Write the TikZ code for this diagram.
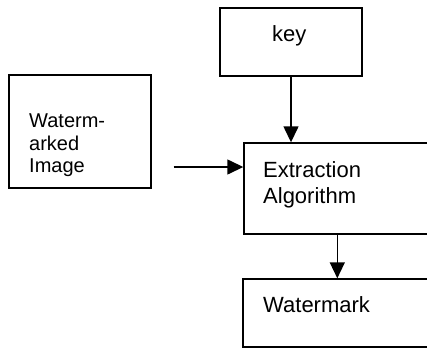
\documentclass[tikz,border=0pt]{standalone}
\usepackage{fontspec}
\setmainfont{Liberation Sans}
\usetikzlibrary{arrows.meta, positioning, calc}

\begin{document}
\begin{tikzpicture}[x=1pt, y=-1pt,
  box/.style={rectangle, draw=black, line width=1.4pt, inner sep=0pt},
  txt/.style={anchor=north west, inner sep=0pt, align=left, font=\fontsize{22}{26}\selectfont},
  arrow/.style={-{Triangle[length=16pt, width=15pt]}, line width=1.4pt}
]
  \clip (0,0) rectangle (427,348);

  \node[box, minimum width=142pt, minimum height=113pt] (img) at (80,131.5) {};
  \node[box, minimum width=142pt, minimum height=68pt] (key) at (291,42) {};
  \node[box, minimum width=200pt, minimum height=91pt] (extr) at (344,188.5) {};
  \node[box, minimum width=200pt, minimum height=68pt] (wm) at (343,313) {};

  \node[txt, font=\fontsize{20}{22.5}\selectfont] (imgtxt) at (29,114) {Waterm-\\arked\\Image};
  \node[txt] (keytxt) at (272,25) {key};
  \node[txt] (extrtxt) at (263,161) {Extraction\\Algorithm};
  \node[txt] (wmtxt) at (263,296) {Watermark};

  \coordinate (extrin) at ([yshift=21.5pt]extr.west);
  \coordinate (extrout) at ([xshift=94pt]extr.south west);

  \draw[arrow, shorten <=22pt] (img.east |- extrin) -- (extrin);
  \draw[arrow] (key) -- (key.south |- extr.north);
  \draw[arrow] (extrout) -- (extrout |- wm.north);
\end{tikzpicture}
\end{document}
